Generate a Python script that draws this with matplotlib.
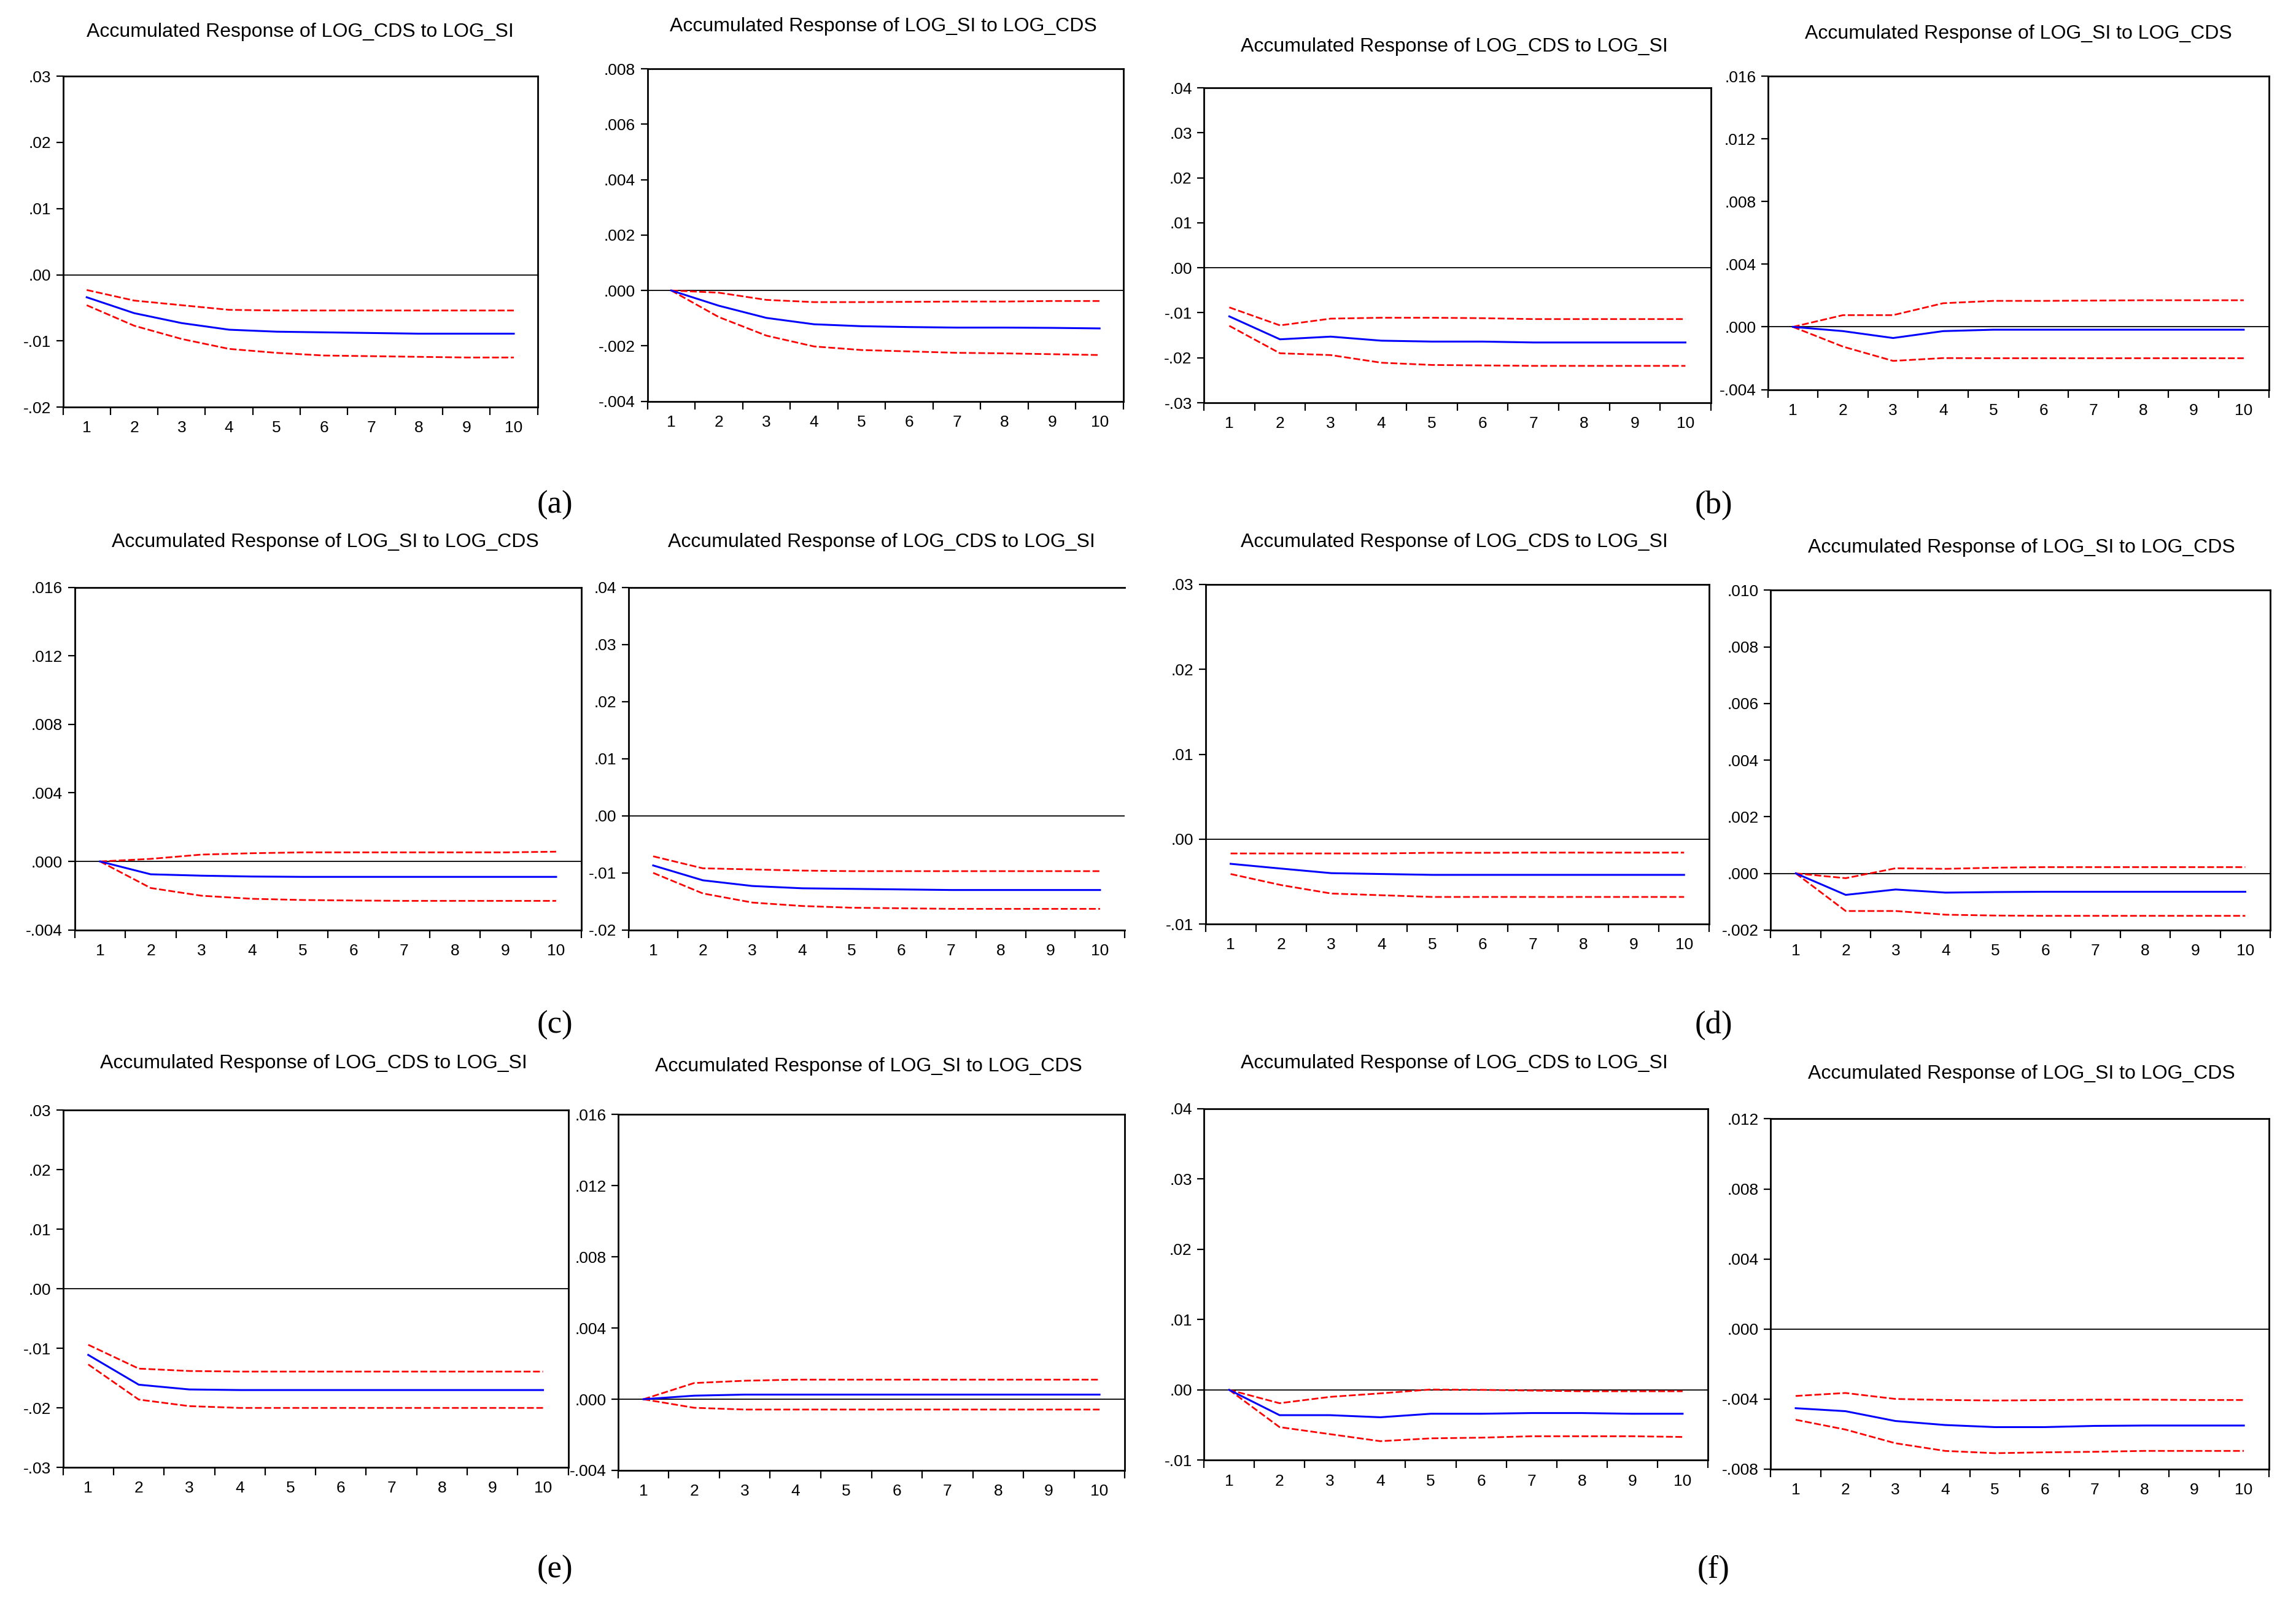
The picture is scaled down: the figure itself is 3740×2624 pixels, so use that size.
import numpy as np
import matplotlib
matplotlib.use("Agg")
import matplotlib.pyplot as plt
from matplotlib.ticker import FixedLocator, FuncFormatter

# horizon (periods)
periods = np.arange(1, 11)

# accumulated responses: response, lower band, upper band
a1_resp = [-0.0034, -0.0058, -0.0073, -0.0083, -0.0086, -0.0087, -0.0088, -0.0089, -0.0089, -0.0089]
a1_lo = [-0.0046, -0.0077, -0.0097, -0.0112, -0.0118, -0.0122, -0.0123, -0.0124, -0.0125, -0.0125]
a1_hi = [-0.0023, -0.0039, -0.0046, -0.0053, -0.0054, -0.0054, -0.0054, -0.0054, -0.0054, -0.0054]

a2_resp = [0.0, -0.00055, -0.00099, -0.00122, -0.00129, -0.00132, -0.00134, -0.00134, -0.00135, -0.00137]
a2_lo = [0.0, -0.00096, -0.00163, -0.00202, -0.00215, -0.0022, -0.00225, -0.00227, -0.0023, -0.00233]
a2_hi = [0.0, -0.00008, -0.00034, -0.00042, -0.00042, -0.00041, -0.0004, -0.0004, -0.00038, -0.00038]

b1_resp = [-0.0108, -0.0159, -0.0153, -0.0162, -0.0164, -0.0164, -0.0166, -0.0166, -0.0166, -0.0166]
b1_lo = [-0.0129, -0.0190, -0.0194, -0.0211, -0.0216, -0.0217, -0.0218, -0.0218, -0.0218, -0.0218]
b1_hi = [-0.0088, -0.0128, -0.0113, -0.0111, -0.0111, -0.0112, -0.0114, -0.0114, -0.0114, -0.0114]

b2_resp = [0.0, -0.00027, -0.00071, -0.00027, -0.00018, -0.00018, -0.00018, -0.00018, -0.00018, -0.00018]
b2_lo = [0.0, -0.00126, -0.00217, -0.00199, -0.002, -0.002, -0.002, -0.002, -0.002, -0.002]
b2_hi = [0.0, 0.00075, 0.00075, 0.00151, 0.00166, 0.00166, 0.00168, 0.0017, 0.0017, 0.0017]

c1_resp = [0.0, -0.00075, -0.00083, -0.00088, -0.0009, -0.0009, -0.0009, -0.0009, -0.0009, -0.0009]
c1_lo = [0.0, -0.00155, -0.002, -0.00218, -0.00225, -0.00228, -0.0023, -0.0023, -0.0023, -0.0023]
c1_hi = [0.0, 0.00015, 0.0004, 0.00048, 0.00053, 0.00053, 0.00053, 0.00053, 0.00053, 0.00057]

c2_resp = [-0.0087, -0.0113, -0.0123, -0.0127, -0.0128, -0.0129, -0.0130, -0.0130, -0.0130, -0.0130]
c2_lo = [-0.0100, -0.0136, -0.0152, -0.0158, -0.0161, -0.0162, -0.0163, -0.0163, -0.0163, -0.0163]
c2_hi = [-0.0071, -0.0092, -0.0094, -0.0096, -0.0097, -0.0097, -0.0097, -0.0097, -0.0097, -0.0097]

d1_resp = [-0.0029, -0.00346, -0.0040, -0.0041, -0.0042, -0.0042, -0.0042, -0.0042, -0.0042, -0.0042]
d1_lo = [-0.0041, -0.0054, -0.0064, -0.0066, -0.0068, -0.0068, -0.0068, -0.0068, -0.0068, -0.0068]
d1_hi = [-0.00168, -0.00168, -0.00168, -0.00168, -0.0016, -0.0016, -0.00158, -0.00158, -0.00158, -0.00158]

d2_resp = [0.0, -0.00076, -0.00057, -0.00068, -0.00066, -0.00065, -0.00065, -0.00065, -0.00065, -0.00065]
d2_lo = [0.0, -0.00133, -0.00133, -0.00146, -0.00149, -0.0015, -0.0015, -0.0015, -0.0015, -0.0015]
d2_hi = [0.0, -0.00017, 0.00018, 0.00016, 0.0002, 0.00022, 0.00022, 0.00022, 0.00022, 0.00022]

e1_resp = [-0.0111, -0.0161, -0.0169, -0.0170, -0.0170, -0.0170, -0.0170, -0.0170, -0.0170, -0.0170]
e1_lo = [-0.0127, -0.0186, -0.0197, -0.0200, -0.0200, -0.0200, -0.0200, -0.0200, -0.0200, -0.0200]
e1_hi = [-0.0094, -0.0134, -0.0138, -0.0139, -0.0139, -0.0139, -0.0139, -0.0139, -0.0139, -0.0139]

e2_resp = [0.0, 0.0002, 0.00026, 0.00026, 0.00026, 0.00026, 0.00026, 0.00026, 0.00026, 0.00026]
e2_lo = [0.0, -0.00048, -0.00058, -0.00058, -0.00058, -0.00058, -0.00058, -0.00058, -0.00058, -0.00058]
e2_hi = [0.0, 0.00091, 0.00104, 0.0011, 0.0011, 0.0011, 0.0011, 0.0011, 0.0011, 0.0011]

f1_resp = [0.0, -0.0036, -0.0036, -0.0039, -0.0034, -0.0034, -0.0033, -0.0033, -0.0034, -0.0034]
f1_lo = [0.0, -0.0053, -0.0063, -0.0073, -0.0069, -0.0068, -0.0066, -0.0066, -0.0066, -0.0067]
f1_hi = [0.0, -0.0019, -0.0010, -0.0005, 0.00005, 0.0, -0.0001, -0.0002, -0.0002, -0.0002]

f2_resp = [-0.00453, -0.0047, -0.00526, -0.00549, -0.00561, -0.00561, -0.00554, -0.00552, -0.00552, -0.00552]
f2_lo = [-0.00519, -0.00575, -0.00653, -0.00697, -0.0071, -0.00705, -0.00702, -0.00697, -0.00697, -0.00697]
f2_hi = [-0.00383, -0.00366, -0.004, -0.00406, -0.00409, -0.00407, -0.00404, -0.00404, -0.00406, -0.00406]

cds_si = "Accumulated Response of LOG_CDS to LOG_SI"
si_cds = "Accumulated Response of LOG_SI to LOG_CDS"
titles = [cds_si, si_cds, cds_si, si_cds,
          si_cds, cds_si, cds_si, si_cds,
          cds_si, si_cds, cds_si, si_cds]

# y axis: (min, max, step, decimals)
yaxes = [(-0.02, 0.03, 0.01, 2), (-0.004, 0.008, 0.002, 3), (-0.03, 0.04, 0.01, 2), (-0.004, 0.016, 0.004, 3),
         (-0.004, 0.016, 0.004, 3), (-0.02, 0.04, 0.01, 2), (-0.01, 0.03, 0.01, 2), (-0.002, 0.010, 0.002, 3),
         (-0.03, 0.03, 0.01, 2), (-0.004, 0.016, 0.004, 3), (-0.01, 0.04, 0.01, 2), (-0.008, 0.012, 0.004, 3)]

panel_labels = ["(a)", "(b)", "(c)", "(d)", "(e)", "(f)"]

series = [(a1_resp, a1_lo, a1_hi), (a2_resp, a2_lo, a2_hi), (b1_resp, b1_lo, b1_hi), (b2_resp, b2_lo, b2_hi),
          (c1_resp, c1_lo, c1_hi), (c2_resp, c2_lo, c2_hi), (d1_resp, d1_lo, d1_hi), (d2_resp, d2_lo, d2_hi),
          (e1_resp, e1_lo, e1_hi), (e2_resp, e2_lo, e2_hi), (f1_resp, f1_lo, f1_hi), (f2_resp, f2_lo, f2_hi)]

# layout, in pixels of a 1568 x 1100 canvas: left, top, right, bottom
W, H = 1568.0, 1100.0
boxes = [(43, 52, 367, 278), (442, 47, 767, 274), (822, 60, 1168, 275), (1207, 52, 1549, 266),
         (51, 401, 397, 635), (429, 401, 768, 635), (823, 399, 1167, 631), (1209, 403, 1550, 635),
         (43, 758, 388, 1002), (422, 761, 768, 1004), (822, 757, 1166, 997), (1209, 764, 1549, 1003)]
title_pos = [(205, 22), (603, 18), (993, 32), (1378, 23),
             (222, 370), (602, 370), (993, 370), (1380, 374),
             (214, 726), (593, 728), (993, 726), (1380, 733)]
label_pos = [(379, 345), (1170, 345), (379, 700), (1170, 700), (379, 1072), (1170, 1072)]

narrow = ["Liberation Sans Narrow", "Liberation Sans", "DejaVu Sans"]

fig = plt.figure(figsize=(37.41, 26.24), dpi=100)

for i in range(12):
    l, t, r, b = boxes[i]
    ax = fig.add_axes([l / W, 1 - b / H, (r - l) / W, (b - t) / H])
    resp, lo, hi = series[i]
    ymin, ymax, step, dec = yaxes[i]

    ax.axhline(0, color="black", lw=1.3, zorder=1)
    ax.plot(periods, hi, color="red", lw=2.0, ls=(0, (4, 1.5)))
    ax.plot(periods, lo, color="red", lw=2.0, ls=(0, (4, 1.5)))
    ax.plot(periods, resp, color="blue", lw=2.2)

    ax.set_xlim(0.5, 10.5)
    ax.set_ylim(ymin, ymax)
    ax.yaxis.set_major_locator(FixedLocator(np.arange(ymin, ymax + step / 2, step)))
    ax.yaxis.set_major_formatter(FuncFormatter(
        lambda v, pos, d=dec: ("%.*f" % (d, v)).replace("0.", ".", 1)))
    ax.xaxis.set_major_locator(FixedLocator(np.arange(0.5, 11, 1.0)))
    ax.xaxis.set_major_formatter(FuncFormatter(lambda v, pos: ""))
    ax.xaxis.set_minor_locator(FixedLocator(periods))
    ax.xaxis.set_minor_formatter(FuncFormatter(lambda v, pos: "%d" % v))

    ax.tick_params(axis="y", direction="out", length=8, width=1.6, pad=6, labelsize=19)
    ax.tick_params(axis="x", which="major", direction="out", length=9, width=1.6)
    ax.tick_params(axis="x", which="minor", length=0, pad=16, labelsize=19)
    for lab in ax.get_yticklabels() + ax.get_xticklabels(minor=True):
        lab.set_family(narrow)
    for sp in ax.spines.values():
        sp.set_linewidth(2.0)
    if i == 5:
        ax.spines["right"].set_visible(False)

    tx, ty = title_pos[i]
    fig.text(tx / W, 1 - ty / H, titles[i], ha="center", va="center",
             fontsize=23, family=narrow)

for k in range(6):
    lx, ly = label_pos[k]
    fig.text(lx / W, 1 - ly / H, panel_labels[k], ha="center", va="center",
             fontsize=38, family=["Liberation Serif", "DejaVu Serif"])

fig.savefig("out.png", dpi=100, facecolor="white")
